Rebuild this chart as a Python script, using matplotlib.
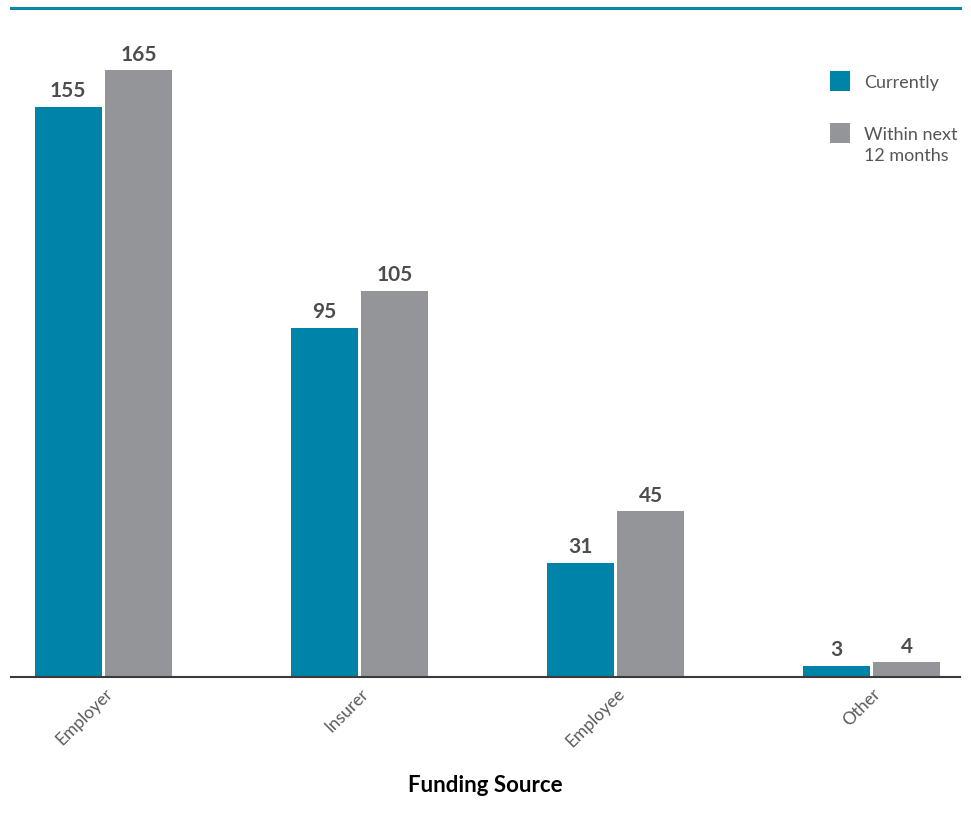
import matplotlib

matplotlib.use("Agg")
import matplotlib.pyplot as plt
import matplotlib.transforms as mtransforms
import numpy as np
from matplotlib.patches import Rectangle

categories = ["Employer", "Insurer", "Employee", "Other"]
currently = [155, 95, 31, 3]
within_next_12 = [165, 105, 45, 4]
series_labels = ["Currently", "Within next\n12 months"]

TEAL = "#0083a9"
GRAY = "#939598"
TEXT = "#4d4d4f"

plt.rcParams["font.family"] = ["Lato", "DejaVu Sans"]

W, H = 971, 822
fig = plt.figure(figsize=(W / 100, H / 100), dpi=100)
ax = fig.add_axes([11 / W, 145 / H, 949 / W, 669 / H])

x = np.arange(len(categories))
width = 0.262
offset = 0.138
bars_now = ax.bar(x - offset, currently, width, color=TEAL)
bars_next = ax.bar(x + offset, within_next_12, width, color=GRAY)

for bars in (bars_now, bars_next):
    ax.bar_label(bars, padding=4, fontsize=15, fontweight="bold", color=TEXT)

ax.set_xlim(-0.361, 3.346)
ax.set_ylim(0, 181.9)

for side in ("left", "right"):
    ax.spines[side].set_visible(False)
ax.spines["top"].set_color("#0a86a8")
ax.spines["top"].set_linewidth(2.2)
ax.spines["bottom"].set_color("#3a3a3a")
ax.spines["bottom"].set_linewidth(1.5)

ax.set_yticks([])
ax.set_xticks(x)
ax.set_xticklabels(categories, rotation=45, ha="right", fontsize=12.5, color="#5a5a5a")
ax.tick_params(axis="x", length=0, pad=6)
shift = mtransforms.ScaledTranslation(12 / 100, 0, fig.dpi_scale_trans)
for lbl in ax.get_xticklabels():
    lbl.set_transform(lbl.get_transform() + shift)

ax.set_xlabel("Funding Source", fontsize=16, fontweight="bold", color="black", labelpad=18)

# hand-placed legend: square swatches with labels to their right
for i, (label, color) in enumerate(zip(series_labels, (TEAL, GRAY))):
    top = 71 + i * 52
    fig.patches.append(
        Rectangle((830 / W, 1 - (top + 20) / H), 20 / W, 20 / H,
                  transform=fig.transFigure, facecolor=color, edgecolor="none")
    )
    fig.text(864 / W, 1 - (top + 4) / H, label, fontsize=13, color="#555555",
             va="top", ha="left", linespacing=1.35)

fig.savefig("out.png", dpi=100)
